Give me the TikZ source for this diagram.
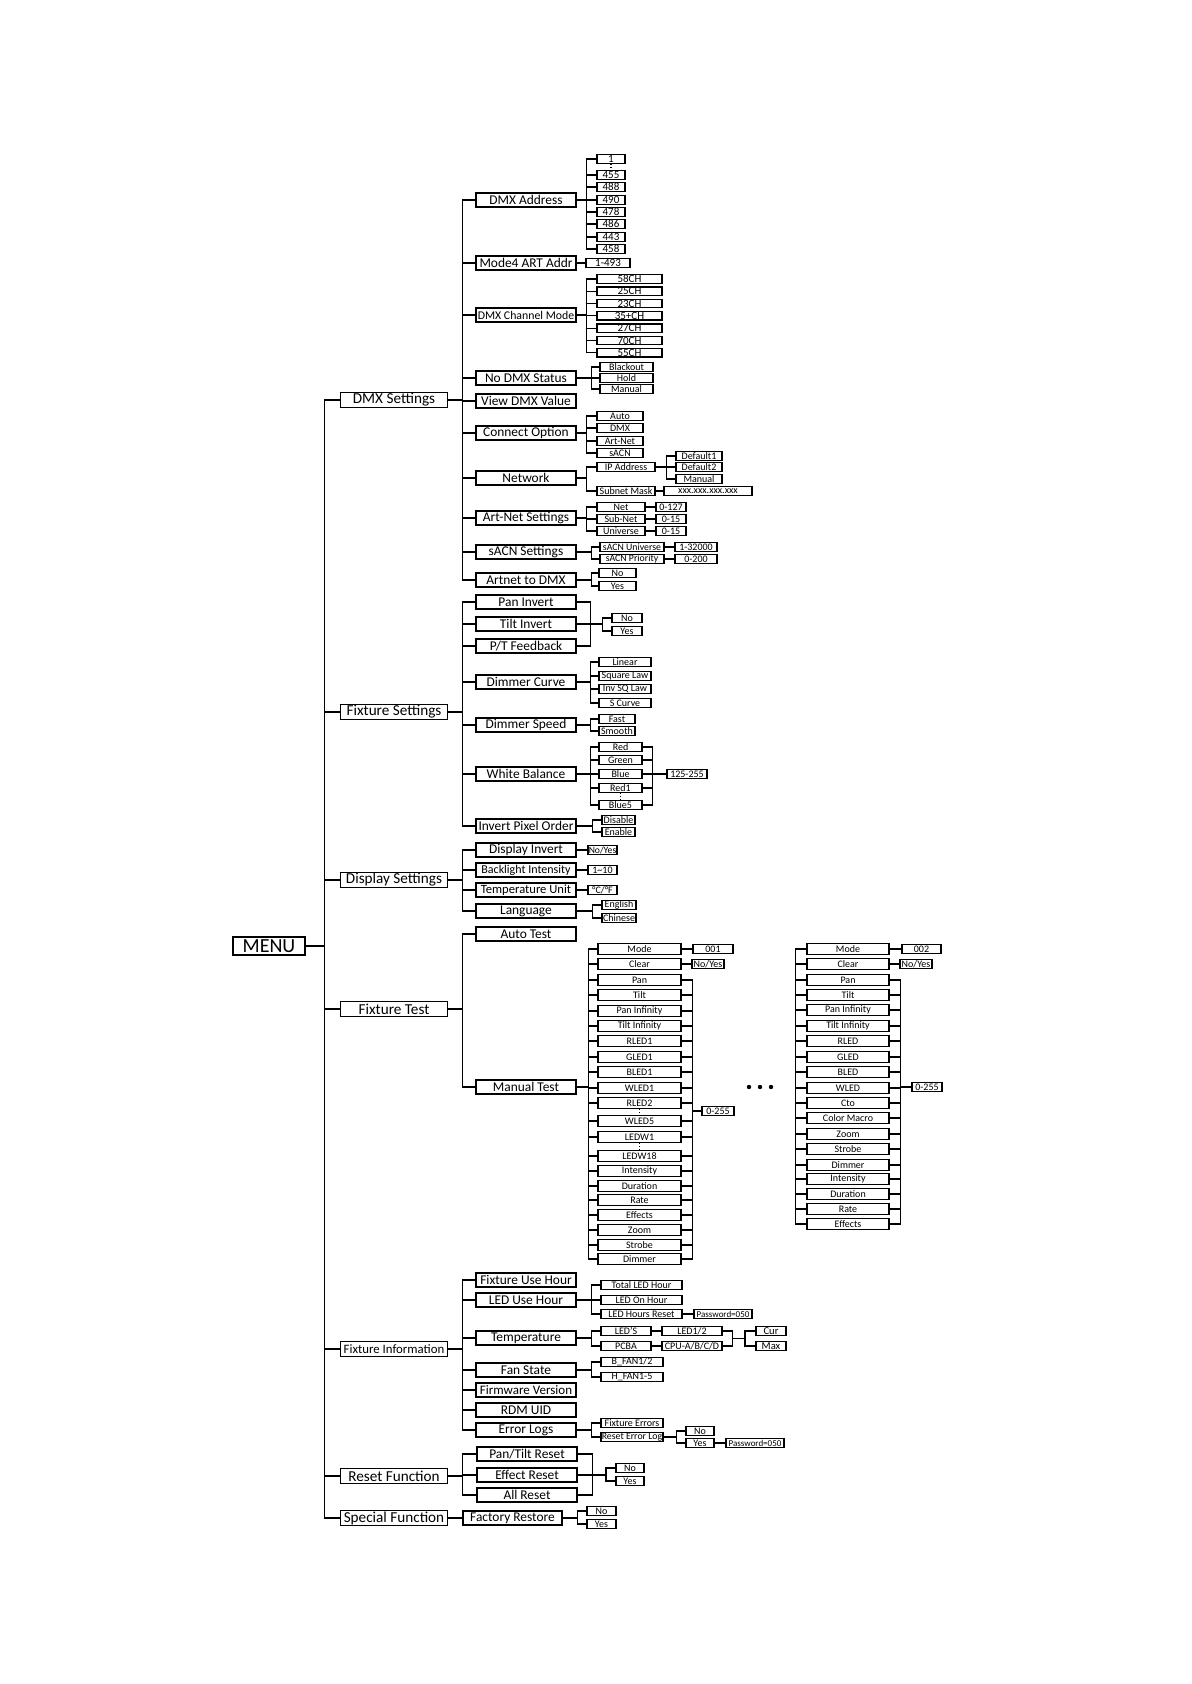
\documentclass[tikz,border=0pt]{standalone}
\usepackage{fontspec}
\setmainfont{Carlito}
\usepackage{tikz}

\begin{document}
\begin{tikzpicture}[x=0.5pt,y=-0.5pt,line width=0.55pt,
    menubox/.style={draw,line width=0.8pt,minimum width=36pt,minimum height=9pt,inner sep=0pt,font=\fontsize{10}{10}\selectfont},
    grpbox/.style={draw,line width=0.7pt,minimum width=53.5pt,minimum height=7.5pt,inner sep=0pt,font=\fontsize{7.6}{8}\selectfont},
    itembox/.style={draw,line width=0.7pt,minimum width=50pt,minimum height=7pt,inner sep=0pt,font=\fontsize{6.7}{7}\selectfont},
    leafbox/.style={draw,line width=0.6pt,minimum height=4.2pt,inner sep=0pt,font=\fontsize{5}{5}\selectfont},
    cellbox/.style={leafbox,minimum height=5.5pt,minimum width=41.5pt,font=\fontsize{5}{5}\selectfont},
    boxw/.style={minimum width=#1*0.5pt}]
\useasboundingbox (0,0) rectangle (1191,1684);

% menu and first level
\node[menubox] (menu) at (269,946) {MENU};
\foreach \n/\t/\y in {dmx/DMX Settings/400,fix/Fixture Settings/712,disp/Display Settings/880,test/Fixture Test/1009,reset/Reset Function/1476,spec/Special Function/1518}{
  \node[grpbox] (\n) at (394,\y) {\t};
  \draw (menu.east) -- ++(19,0) |- (\n.west);
}
\node[grpbox,font=\fontsize{6.4}{7}\selectfont] (info) at (394,1349) {Fixture Information};
\draw (menu.east) -- ++(19,0) |- (info.west);

% DMX settings
\foreach \n/\t/\y in {addr/DMX Address/200,art4/Mode4 ART Addr/263,nodmx/No DMX Status/378,view/View DMX Value/401,conn/Connect Option/433,net/Network/478,artset/Art-Net Settings/518,sacn/sACN Settings/552,atod/Artnet to DMX/580}{
  \node[itembox] (\n) at (526,\y) {\t};
  \draw (dmx.east) -- ++(14,0) |- (\n.west);
}
\node[itembox,font=\fontsize{5.9}{6}\selectfont] (chmode) at (526,315) {DMX Channel Mode};
\draw (dmx.east) -- ++(14,0) |- (chmode.west);

\foreach \t/\y [count=\i] in {1/159,455/175,488/187,490/200,478/212,486/224,443/237,458/249}{
  \node[leafbox,boxw=28,font=\fontsize{5.5}{6}\selectfont] (addr\i) at (611,\y) {\t};
  \draw (addr.east) -- ++(10,0) |- (addr\i.west);
}
\draw[densely dotted] (addr1.south) -- (addr2.north);
\node[leafbox,boxw=44,font=\fontsize{5.5}{6}\selectfont] (art4v) at (608,263) {1-493};
\draw (art4.east) -- (art4v.west);
\foreach \t [count=\i] in {58CH,25CH,23CH,35+CH,27CH,70CH,55CH}{
  \node[leafbox,boxw=65,font=\fontsize{5.5}{6}\selectfont] (ch\i) at (629.5,{279+12.3*(\i-1)}) {\t};
  \draw (chmode.east) -- ++(10,0) |- (ch\i.west);
}
\foreach \t/\y [count=\i] in {Blackout/367,Hold/378,Manual/389}{
  \node[leafbox,boxw=53] (nd\i) at (626.5,\y) {\t};
  \draw (nodmx.east) -- ++(15,0) |- (nd\i.west);
}
\foreach \t/\y [count=\i] in {Auto/416,DMX/428,Art-Net/441,sACN/453}{
  \node[leafbox,boxw=46] (co\i) at (620,\y) {\t};
  \draw (conn.east) -- ++(10,0) |- (co\i.west);
}
\node[leafbox,boxw=58] (ip) at (626,467) {IP Address};
\node[leafbox,boxw=58] (mask) at (626,491) {Subnet Mask};
\draw (net.east) -- ++(10,0) |- (ip.west);
\draw (net.east) -- ++(10,0) |- (mask.west);
\foreach \t/\y [count=\i] in {Default1/456,Default2/467,Manual/479}{
  \node[leafbox,boxw=46] (ipv\i) at (699,\y) {\t};
  \draw (ip.east) -- ++(11,0) |- (ipv\i.west);
}
\node[leafbox,boxw=88] (maskv) at (708,491) {xxx.xxx.xxx.xxx};
\draw (mask.east) -- (maskv.west);
\foreach \t/\v/\y [count=\i] in {Net/0-127/507,Sub-Net/0-15/519,Universe/0-15/531}{
  \node[leafbox,boxw=48] (an\i) at (621,\y) {\t};
  \node[leafbox,boxw=30] (anv\i) at (671,\y) {\v};
  \draw (artset.east) -- ++(10,0) |- (an\i.west);
  \draw (an\i.east) -- (anv\i.west);
}
\foreach \t/\v/\y [count=\i] in {sACN Universe/1-32000/547,sACN Priority/0-200/559}{
  \node[leafbox,boxw=64,font=\fontsize{4.9}{5}\selectfont] (sa\i) at (632,\y) {\t};
  \node[leafbox,boxw=42] (sav\i) at (696,\y) {\v};
  \draw (sacn.east) -- ++(15,0) |- (sa\i.west);
  \draw (sa\i.east) -- (sav\i.west);
}
\foreach \t/\y [count=\i] in {No/573,Yes/586}{
  \node[leafbox,boxw=37] (ad\i) at (617.5,\y) {\t};
  \draw (atod.east) -- ++(15,0) |- (ad\i.west);
}

% fixture settings
\foreach \n/\t/\y in {pan/Pan Invert/602,tilt/Tilt Invert/624,ptfb/{P/T Feedback}/646,dimc/Dimmer Curve/682,dims/Dimmer Speed/725,wb/White Balance/774,pix/Invert Pixel Order/826}{
  \node[itembox] (\n) at (526,\y) {\t};
  \draw (fix.east) -- ++(14,0) |- (\n.west);
}
\draw (pan.east) -- ++(14,0) |- (ptfb.east);
\foreach \t/\y [count=\i] in {No/618,Yes/631}{
  \node[leafbox,boxw=30] (pt\i) at (627,\y) {\t};
  \draw (tilt.east) -- ++(26,0) |- (pt\i.west);
}
\foreach \t/\y [count=\i] in {Linear/662,Square Law/676,Inv SQ Law/689,S Curve/703}{
  \node[leafbox,boxw=52] (dc\i) at (625,\y) {\t};
  \draw (dimc.east) -- ++(14,0) |- (dc\i.west);
}
\foreach \t/\y [count=\i] in {Fast/719,Smooth/731}{
  \node[leafbox,boxw=36] (ds\i) at (617,\y) {\t};
  \draw (dims.east) -- ++(14,0) |- (ds\i.west);
}
\node[leafbox,boxw=40] (wbv) at (687,774) {125-255};
\foreach \t/\y [count=\i] in {Red/747,Green/760,Blue/774,Red1/788,Blue5/805}{
  \node[leafbox,boxw=43] (wb\i) at (620.5,\y) {\t};
  \draw (wb.east) -- ++(14,0) |- (wb\i.west);
  \draw (wb\i.east) -- ++(10,0) |- (wbv.west);
}
\draw[densely dotted] (wb4.south) -- (wb5.north);
\foreach \t/\y [count=\i] in {Disable/820,Enable/832}{
  \node[leafbox,boxw=33] (px\i) at (618.5,\y) {\t};
  \draw (pix.east) -- ++(16,0) |- (px\i.west);
}

% display settings
\node[itembox] (dinv) at (526,850) {Display Invert};
\node[itembox,font=\fontsize{6}{6}\selectfont] (bl) at (526,870) {Backlight Intensity};
\node[itembox,font=\fontsize{6.3}{7}\selectfont] (tu) at (526,890) {Temperature Unit};
\node[itembox] (lang) at (526,911) {Language};
\foreach \n in {dinv,bl,tu,lang} \draw (disp.east) -- ++(14,0) |- (\n.west);
\node[leafbox,boxw=29,font=\fontsize{4.8}{5}\selectfont] (dinvv) at (602.5,850) {No/Yes};
\node[leafbox,boxw=29] (blv) at (602.5,870) {1\textasciitilde10};
\node[leafbox,boxw=29] (tuv) at (602.5,890) {°C/°F};
\draw (dinv.east) -- (dinvv.west);
\draw (bl.east) -- (blv.west);
\draw (tu.east) -- (tuv.west);
\foreach \t/\y [count=\i] in {English/905,Chinese/918}{
  \node[leafbox,boxw=34] (lg\i) at (619,\y) {\t};
  \draw (lang.east) -- ++(16,0) |- (lg\i.west);
}

% fixture test
\node[itembox] (auto) at (526,934) {Auto Test};
\node[itembox] (manual) at (526,1087) {Manual Test};
\foreach \n in {auto,manual} \draw (test.east) -- ++(14,0) |- (\n.west);

\foreach \t/\y [count=\i] in {Mode/949,Clear/964,Pan/980,Tilt/995,Pan Infinity/1011,Tilt Infinity/1026,RLED1/1041,GLED1/1057,BLED1/1072,WLED1/1088,RLED2/1103,WLED5/1121,LEDW1/1137,LEDW18/1156,Intensity/1171,Duration/1186,Rate/1200,Effects/1215,Zoom/1230,Strobe/1245,Dimmer/1259}{
  \node[cellbox] (ma\i) at (639.5,\y) {\t};
  \draw (manual.east) -- ++(12,0) |- (ma\i.west);
}
\node[leafbox,boxw=40] (mamode) at (713,949) {001};
\node[leafbox,boxw=32] (maclr) at (708,964) {No/Yes};
\node[leafbox,boxw=32] (mav) at (718,1111) {0-255};
\draw (ma1.east) -- (mamode.west);
\draw (ma2.east) -- (maclr.west);
\foreach \i in {3,...,21} \draw (ma\i.east) -- ++(11,0) |- (mav.west);
\draw[densely dotted] (ma11.south) -- (ma12.north);
\draw[densely dotted] (ma13.south) -- (ma14.north);

\foreach \x in {749,760,771} \fill (\x,1087) circle (1.1pt);

\foreach \t/\y [count=\i] in {Mode/949,Clear/964,Pan/980,Tilt/995,Pan Infinity/1010,Tilt Infinity/1026,RLED/1041,GLED/1057,BLED/1072,WLED/1088,Cto/1103,Color Macro/1118,Zoom/1134,Strobe/1149,Dimmer/1165,Intensity/1179,Duration/1194,Rate/1209,Effects/1224}{
  \node[cellbox,boxw=82] (mb\i) at (848,\y) {\t};
  \draw (mb1.west) -- ++(-11,0) |- (mb\i.west);
}
\node[leafbox,boxw=39] (mbmode) at (921.5,949) {002};
\node[leafbox,boxw=32] (mbclr) at (916,964) {No/Yes};
\node[leafbox,boxw=30] (mbv) at (927,1087) {0-255};
\draw (mb1.east) -- (mbmode.west);
\draw (mb2.east) -- (mbclr.west);
\foreach \i in {3,...,19} \draw (mb\i.east) -- ++(11,0) |- (mbv.west);

% fixture information
\foreach \n/\t/\y in {usehr/Fixture Use Hour/1280,ledhr/LED Use Hour/1300,temp/Temperature/1338,fan/Fan State/1370,rdm/RDM UID/1410,err/Error Logs/1430}{
  \node[itembox] (\n) at (526,\y) {\t};
  \draw (info.east) -- ++(14,0) |- (\n.west);
}
\node[itembox,font=\fontsize{6.5}{7}\selectfont] (fw) at (526,1390) {Firmware Version};
\draw (info.east) -- ++(14,0) |- (fw.west);

\foreach \t/\y [count=\i] in {Total LED Hour/1285,LED On Hour/1300,LED Hours Reset/1314}{
  \node[leafbox,boxw=81] (lh\i) at (641.5,\y) {\t};
  \draw (ledhr.east) -- ++(15,0) |- (lh\i.west);
}
\node[leafbox,boxw=58,font=\fontsize{4.5}{5}\selectfont] (pw1) at (723,1314) {Password=050};
\draw (lh3.east) -- (pw1.west);

\node[leafbox,boxw=50] (leds) at (626,1331) {LED'S};
\node[leafbox,boxw=50] (pcba) at (626,1346) {PCBA};
\draw (temp.east) -- ++(15,0) |- (leds.west);
\draw (temp.east) -- ++(15,0) |- (pcba.west);
\node[leafbox,boxw=60] (led12) at (692,1331) {LED1/2};
\node[leafbox,boxw=60] (cpu) at (692,1346) {CPU-A/B/C/D};
\draw (leds.east) -- (led12.west);
\draw (pcba.east) -- (cpu.west);
\draw (led12.east) -- ++(10,0) |- (cpu.east);
\coordinate (tj) at (732,1338.5);
\node[leafbox,boxw=30,font=\fontsize{5.3}{6}\selectfont] (cur) at (771,1331) {Cur};
\node[leafbox,boxw=30,font=\fontsize{5.3}{6}\selectfont] (max) at (771,1346) {Max};
\draw (tj) -- ++(13,0) |- (cur.west);
\draw (tj) -- ++(13,0) |- (max.west);

\node[leafbox,boxw=62] (bfan) at (632,1362) {B\_FAN1/2};
\node[leafbox,boxw=62] (hfan) at (632,1377) {H\_FAN1-5};
\draw (fan.east) -- ++(15,0) |- (bfan.west);
\draw (fan.east) -- ++(15,0) |- (hfan.west);

\node[leafbox,boxw=62] (fxerr) at (632,1423) {Fixture Errors};
\node[leafbox,boxw=62,font=\fontsize{4.9}{5}\selectfont] (rsterr) at (632,1437) {Reset Error Log};
\draw (err.east) -- ++(15,0) |- (fxerr.west);
\draw (err.east) -- ++(15,0) |- (rsterr.west);
\foreach \t/\y [count=\i] in {No/1431,Yes/1443}{
  \node[leafbox,boxw=28] (er\i) at (700,\y) {\t};
  \draw (rsterr.east) -- ++(13,0) |- (er\i.west);
}
\node[leafbox,boxw=58,font=\fontsize{4.5}{5}\selectfont] (pw2) at (755,1443) {Password=050};
\draw (er2.east) -- (pw2.west);

% reset function
\foreach \n/\t/\y in {ptr/{Pan/Tilt Reset}/1454,effr/Effect Reset/1475,allr/All Reset/1495}{
  \node[itembox] (\n) at (527,\y) {\t};
  \draw (reset.east) -- ++(14,0) |- (\n.west);
}
\draw (ptr.east) -- ++(15,0) |- (allr.east);
\foreach \t/\y [count=\i] in {No/1468,Yes/1481}{
  \node[leafbox,boxw=28] (rs\i) at (630,\y) {\t};
  \draw[line width=0.9pt] (effr.east) -- ++(28,0) |- (rs\i.west);
}

% special function
\node[itembox,boxw=99] (factory) at (512.5,1518) {Factory Restore};
\draw[line width=0.9pt] (spec.east) -- (factory.west);
\foreach \t/\y [count=\i] in {No/1511,Yes/1524}{
  \node[leafbox,boxw=29] (fr\i) at (601.5,\y) {\t};
  \draw (factory.east) -- ++(15,0) |- (fr\i.west);
}
\end{tikzpicture}
\end{document}
